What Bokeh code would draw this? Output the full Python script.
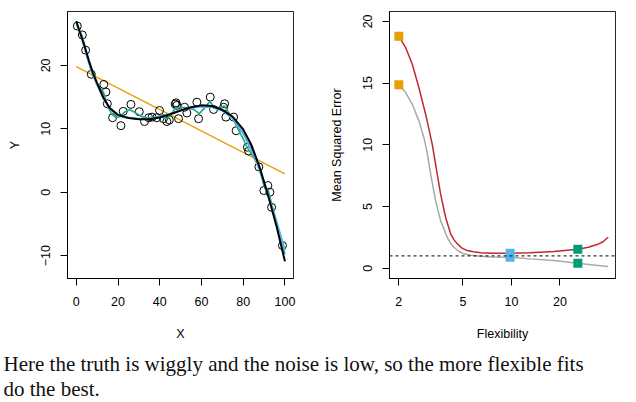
from bokeh.plotting import figure
from bokeh.layouts import column, row
from bokeh.models import Range1d, FixedTicker, Span, Label, PrintfTickFormatter
from bokeh.embed import file_html
from bokeh.resources import INLINE

# ---- left panel: simulated data and three fits ----
obs_x = [0.5, 2.9, 4.5, 7.2, 13.2, 14.2, 14.9, 17.4, 21.4, 22.5, 26.2, 30.2, 32.7,
         34.7, 36.3, 38.6, 39.9, 41.8, 43.4, 44.6, 47.4, 47.8, 48.2, 49.0, 51.9,
         53.0, 57.8, 58.6, 64.2, 65.8, 70.6, 71.1, 71.7, 75.4, 76.6, 82.0, 82.6,
         87.5, 89.9, 91.8, 92.8, 93.6, 98.8]
obs_y = [26.2, 24.8, 22.4, 18.6, 17.0, 15.8, 13.95, 11.75, 10.5, 12.75, 13.85, 12.7,
         11.15, 11.75, 11.85, 11.75, 12.9, 11.6, 11.15, 11.4, 13.9, 14.1, 13.7, 11.6,
         13.4, 12.5, 14.2, 11.6, 15.0, 13.05, 13.4, 13.95, 11.85, 11.85, 9.7, 7.1,
         6.5, 4.0, 0.27, 1.06, 0.0, -2.37, -8.4]

true_x = [0, 2, 4, 6, 8, 10, 13, 16, 20, 25, 30, 35, 40, 45, 50, 55, 60, 65, 70,
          75, 80, 84, 88, 92, 96, 100]
true_y = [27.0, 25.0, 23.0, 20.8, 18.8, 17.2, 14.9, 13.3, 12.2, 11.7, 11.5, 11.5,
          11.8, 12.3, 12.9, 13.4, 13.7, 13.6, 13.0, 11.9, 9.9, 7.4, 3.8, -0.6,
          -5.4, -10.9]

lin_x = [0, 100]
lin_y = [19.8, 2.9]

smooth_x = [0, 3, 5, 7.5, 10, 13, 16, 19, 22, 26, 30, 35, 40, 45, 50, 55, 60, 65,
            70, 75, 80, 85, 90, 95, 100]
smooth_y = [26.8, 24.0, 21.5, 19.0, 16.9, 14.9, 13.2, 12.3, 11.9, 11.7, 11.6, 11.6,
            11.9, 12.4, 12.9, 13.3, 13.5, 13.4, 12.9, 11.6, 9.3, 5.9, 1.6, -3.5, -9.2]

wiggly_x = [0, 3, 5, 7.5, 10, 13, 15, 17, 19, 21, 23, 25.5, 28, 31, 34, 37, 40, 43,
            45, 47.5, 50, 53, 56, 59, 62, 64, 66, 68.5, 71, 73, 75, 77, 80, 82, 85,
            87.5, 90, 92, 94, 96, 98.8, 100]
wiggly_y = [26.5, 24.5, 21.8, 18.8, 17.0, 15.8, 13.6, 12.3, 11.8, 11.9, 12.6, 13.0,
            12.6, 12.0, 11.7, 11.8, 12.0, 11.6, 12.0, 13.3, 13.4, 13.3, 13.1, 12.4,
            13.5, 14.3, 13.4, 13.3, 13.6, 12.6, 11.6, 10.3, 8.4, 7.0, 5.5, 4.0, 1.0,
            0.3, -2.3, -5.0, -8.3, -9.8]

# ---- right panel: training and test MSE versus flexibility ----
test_flex = [2.0, 2.2, 2.42, 2.66, 2.93, 3.22, 3.46, 3.63, 3.9, 4.19, 4.4, 4.61,
             4.9, 5.31, 5.8, 6.43, 7.5, 9.8, 13.0, 18.3, 25.8, 30.0, 34.0, 37.0, 39.8]
test_mse = [18.8, 17.9, 16.55, 14.66, 12.5, 10.07, 7.64, 6.02, 4.13, 2.79, 2.3,
            1.98, 1.65, 1.43, 1.33, 1.25, 1.22, 1.22, 1.26, 1.35, 1.54, 1.7, 1.92,
            2.15, 2.51]
train_flex = [2.0, 2.2, 2.42, 2.66, 2.86, 2.98, 3.15, 3.38, 3.63, 3.99, 4.2, 4.39,
              4.7, 5.06, 5.6, 6.43, 7.5, 9.8, 13.0, 18.3, 25.8, 32.0, 39.8]
train_mse = [14.87, 14.25, 13.3, 11.96, 10.6, 9.53, 7.64, 5.48, 3.86, 2.51, 2.0,
             1.70, 1.38, 1.17, 1.05, 0.97, 0.92, 0.89, 0.76, 0.62, 0.40, 0.27, 0.14]

fit_flex = [2.0, 9.8, 25.8]
fit_test = [18.8, 1.22, 1.54]
fit_train = [14.87, 0.89, 0.40]
fit_colors = ["#E69F00", "#56B4E9", "#009E73"]

irreducible = 1.0

left_ticks_x = [0, 20, 40, 60, 80, 100]
left_ticks_y = [-10, 0, 10, 20]
right_ticks_x = [2, 5, 10, 20]
right_ticks_y = [0, 5, 10, 15, 20]

caption_lines = ["Here the truth is wiggly and the noise is low, so the more flexible fits",
                 "do the best."]

FONT = "Liberation Sans"
TICK_SIZE = "12.5px"


def style_axes(p, xticks, yticks):
    p.xaxis.ticker = FixedTicker(ticks=xticks)
    p.yaxis.ticker = FixedTicker(ticks=yticks)
    for ax in p.xaxis + p.yaxis:
        ax.major_tick_out = 7
        ax.major_tick_in = 0
        ax.minor_tick_line_color = None
        ax.axis_line_color = "black"
        ax.major_tick_line_color = "black"
        ax.major_label_text_font = FONT
        ax.major_label_text_font_size = TICK_SIZE
        ax.major_label_text_color = "black"
        ax.axis_label_text_font = FONT
        ax.axis_label_text_font_size = TICK_SIZE
        ax.axis_label_text_font_style = "normal"
        ax.axis_label_text_color = "black"
    p.yaxis.major_label_orientation = "vertical"
    p.xaxis.major_label_standoff = 11
    p.yaxis.major_label_standoff = 10
    p.xaxis.axis_label_standoff = 18
    p.yaxis.axis_label_standoff = 17
    p.xgrid.visible = False
    p.ygrid.visible = False
    p.outline_line_color = "black"
    p.outline_line_width = 1
    p.outline_line_alpha = 0.85


left = figure(width=318, height=345, x_range=Range1d(-4.2, 104.1),
              y_range=Range1d(-13.6, 28.5), output_backend="svg",
              toolbar_location=None, min_border_left=67, min_border_right=25,
              min_border_top=11, min_border_bottom=67, x_axis_label="X",
              y_axis_label="Y")
style_axes(left, left_ticks_x, left_ticks_y)

left.line(lin_x, lin_y, line_color="#E69F00", line_width=1.3)
left.scatter(obs_x, obs_y, marker="circle", size=8, fill_color=None,
             line_color="black", line_width=1)
left.line(wiggly_x, wiggly_y, line_color="#1FA88E", line_width=1.6)
left.line(smooth_x, smooth_y, line_color="#56B4E9", line_width=2)
left.line(true_x, true_y, line_color="black", line_width=2)

right = figure(width=318, height=345, x_axis_type="log",
               x_range=Range1d(1.75, 44.2), y_range=Range1d(-0.83, 20.8),
               output_backend="svg", toolbar_location=None, min_border_left=71,
               min_border_right=21, min_border_top=11, min_border_bottom=67,
               x_axis_label="Flexibility", y_axis_label="Mean Squared Error")
style_axes(right, right_ticks_x, right_ticks_y)
right.xaxis.formatter = PrintfTickFormatter(format="%d")

right.line(train_flex, train_mse, line_color="#A9A9A9", line_width=1.5)
right.line(test_flex, test_mse, line_color="#C0282D", line_width=1.5)
right.add_layout(Span(location=irreducible, dimension="width", line_color="black",
                      line_width=1, line_dash="3 3"))
right.scatter(fit_flex, fit_test, marker="square", size=9, fill_color=fit_colors,
              line_color=None)
right.scatter(fit_flex, fit_train, marker="square", size=9, fill_color=fit_colors,
              line_color=None)

caption = figure(width=636, height=57, output_backend="svg", toolbar_location=None,
                 x_range=Range1d(0, 1), y_range=Range1d(0, 1), min_border=0)
caption.axis.visible = False
caption.grid.visible = False
caption.outline_line_color = None
for i, line in enumerate(caption_lines):
    caption.add_layout(Label(x=3, y=39 - 25 * i, x_units="screen", y_units="screen",
                             text=line, text_font="Liberation Serif",
                             text_font_size="21px", text_color="#111111",
                             text_baseline="middle"))

page = column(row(left, right), caption)

with open("out.html", "w") as f:
    f.write(file_html(page, INLINE))
